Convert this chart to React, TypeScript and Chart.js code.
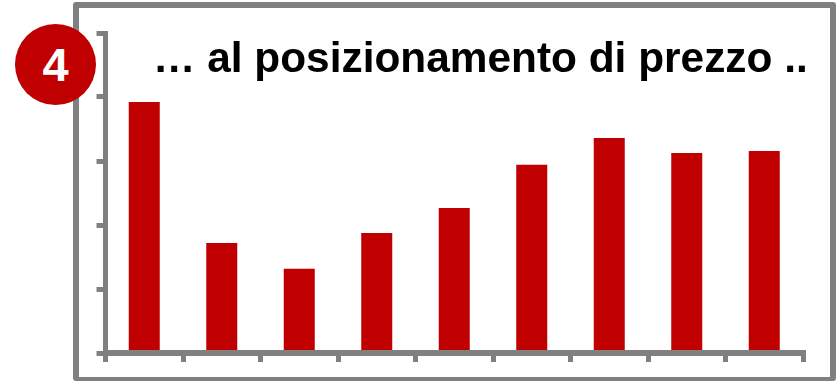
import React, { useEffect, useRef } from "react";
import { Chart, registerables } from "chart.js";

Chart.register(...registerables);

const categories = ["1", "2", "3", "4", "5", "6", "7", "8", "9"];
const shareValues = [78.4, 34.4, 26.3, 37.5, 45.3, 58.8, 67.2, 62.5, 63.1];
const titleText = "… al posizionamento di prezzo ..";
const badgeText = "4";

const GREY = "#808080";
const RED = "#C00000";
const FONT = '"Liberation Sans", Arial, sans-serif';

export default function App() {
  const canvasRef = useRef<HTMLCanvasElement>(null);

  useEffect(() => {
    document.body.style.margin = "0";
    const chart = new Chart(canvasRef.current!, {
      type: "bar",
      data: {
        labels: categories,
        datasets: [
          {
            data: shareValues,
            backgroundColor: RED,
            barPercentage: 0.4,
            categoryPercentage: 1,
          },
        ],
      },
      options: {
        animation: false,
        responsive: false,
        layout: { padding: { top: 33, right: 33, left: 0, bottom: 0 } },
        plugins: {
          legend: { display: false },
          title: { display: false },
          tooltip: { enabled: false },
        },
        scales: {
          x: {
            afterFit: (scale: any) => {
              scale.height = 28;
            },
            ticks: { display: false },
            grid: {
              offset: true,
              drawOnChartArea: false,
              color: GREY,
              lineWidth: 5,
              tickLength: 9,
              z: 1,
            },
            border: { color: GREY, width: 6, z: 1 },
          },
          y: {
            min: 0,
            max: 100,
            afterFit: (scale: any) => {
              scale.width = 105.5;
            },
            ticks: { display: false, stepSize: 20 },
            grid: {
              drawOnChartArea: false,
              color: GREY,
              lineWidth: 5,
              tickLength: 9,
              z: 1,
            },
            border: { color: GREY, width: 5, z: 1 },
          },
        },
      },
    });
    return () => chart.destroy();
  }, []);

  return (
    <div style={{ position: "relative", width: 836, height: 381, overflow: "hidden", background: "#fff" }}>
      <div
        style={{
          position: "absolute",
          left: 73,
          top: 2,
          width: 763,
          height: 379,
          boxSizing: "border-box",
          border: `6px solid ${GREY}`,
          borderBottomWidth: 4,
          borderRadius: 3,
        }}
      />
      <canvas ref={canvasRef} width={836} height={381} style={{ position: "absolute", left: 0, top: 0 }} />
      <div
        style={{
          position: "absolute",
          left: 153,
          top: 34,
          font: `bold 42.4px ${FONT}`,
          color: "#000",
          whiteSpace: "nowrap",
        }}
      >
        {titleText}
      </div>
      <div
        style={{
          position: "absolute",
          left: 15,
          top: 24,
          width: 81,
          height: 81,
          borderRadius: "50%",
          background: RED,
          color: "#fff",
          font: `bold 47px ${FONT}`,
          display: "flex",
          alignItems: "center",
          justifyContent: "center",
        }}
      >
        {badgeText}
      </div>
    </div>
  );
}
